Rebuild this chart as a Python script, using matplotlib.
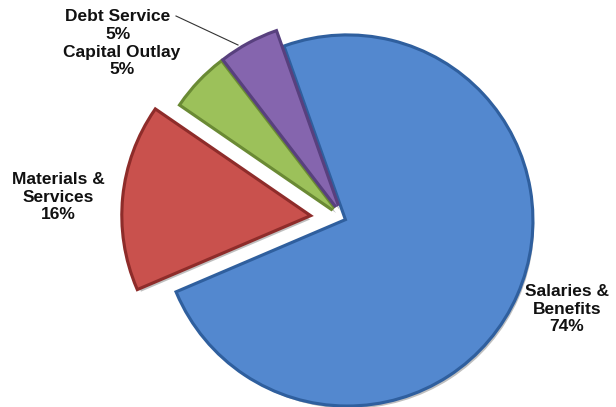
import matplotlib
matplotlib.use("Agg")
import matplotlib.pyplot as plt
import matplotlib.patheffects as pe

# data
categories = ["Salaries &\nBenefits", "Materials &\nServices", "Capital Outlay", "Debt Service"]
shares = [74, 16, 5, 5]
colors = ["#5388cf", "#c9514d", "#9cc15a", "#8565ae"]
edge_colors = ["#2f5f9e", "#8e2c2a", "#6a8a34", "#58407e"]
explode = [0.02, 0.2, 0.08, 0.08]

# label centres in pixels (x, y from top)
label_pos = [(567, 309), (58, 197), (122, 61), (118, 25.5)]

W, H = 616, 407
cx, cy, r = 344, 219, 184

fig = plt.figure(figsize=(W / 100, H / 100), dpi=100)
ax = fig.add_axes([0, 0, 1, 1])

wedges, _ = ax.pie(shares, colors=colors, explode=explode, startangle=109.5,
                   counterclock=False, radius=1.0,
                   wedgeprops=dict(linewidth=0))

# pie resets the limits, so set them afterwards
ax.set_xlim(-cx / r, (W - cx) / r)
ax.set_ylim(-(H - cy) / r, cy / r)
ax.set_aspect("equal")
ax.axis("off")

for w, ec in zip(wedges, edge_colors):
    w.set_path_effects([
        pe.SimplePatchShadow(offset=(2, -3), shadow_rgbFace="#000000", alpha=0.25),
        pe.Stroke(linewidth=4.5, foreground=ec),
        pe.Normal(),
    ])

for text, pct, (px, py) in zip(categories, shares, label_pos):
    ax.text(px / W, 1 - py / H, f"{text}\n{pct}%", transform=ax.transAxes,
            ha="center", va="center", fontsize=12.5, fontweight="bold",
            family="Liberation Sans", linespacing=1.2, color="#111111")

# leader line for Debt Service
ax.plot([176 / W, 238 / W], [1 - 16 / H, 1 - 45 / H], transform=ax.transAxes,
        color="#333333", linewidth=0.8)

fig.savefig("out.png", dpi=100)
